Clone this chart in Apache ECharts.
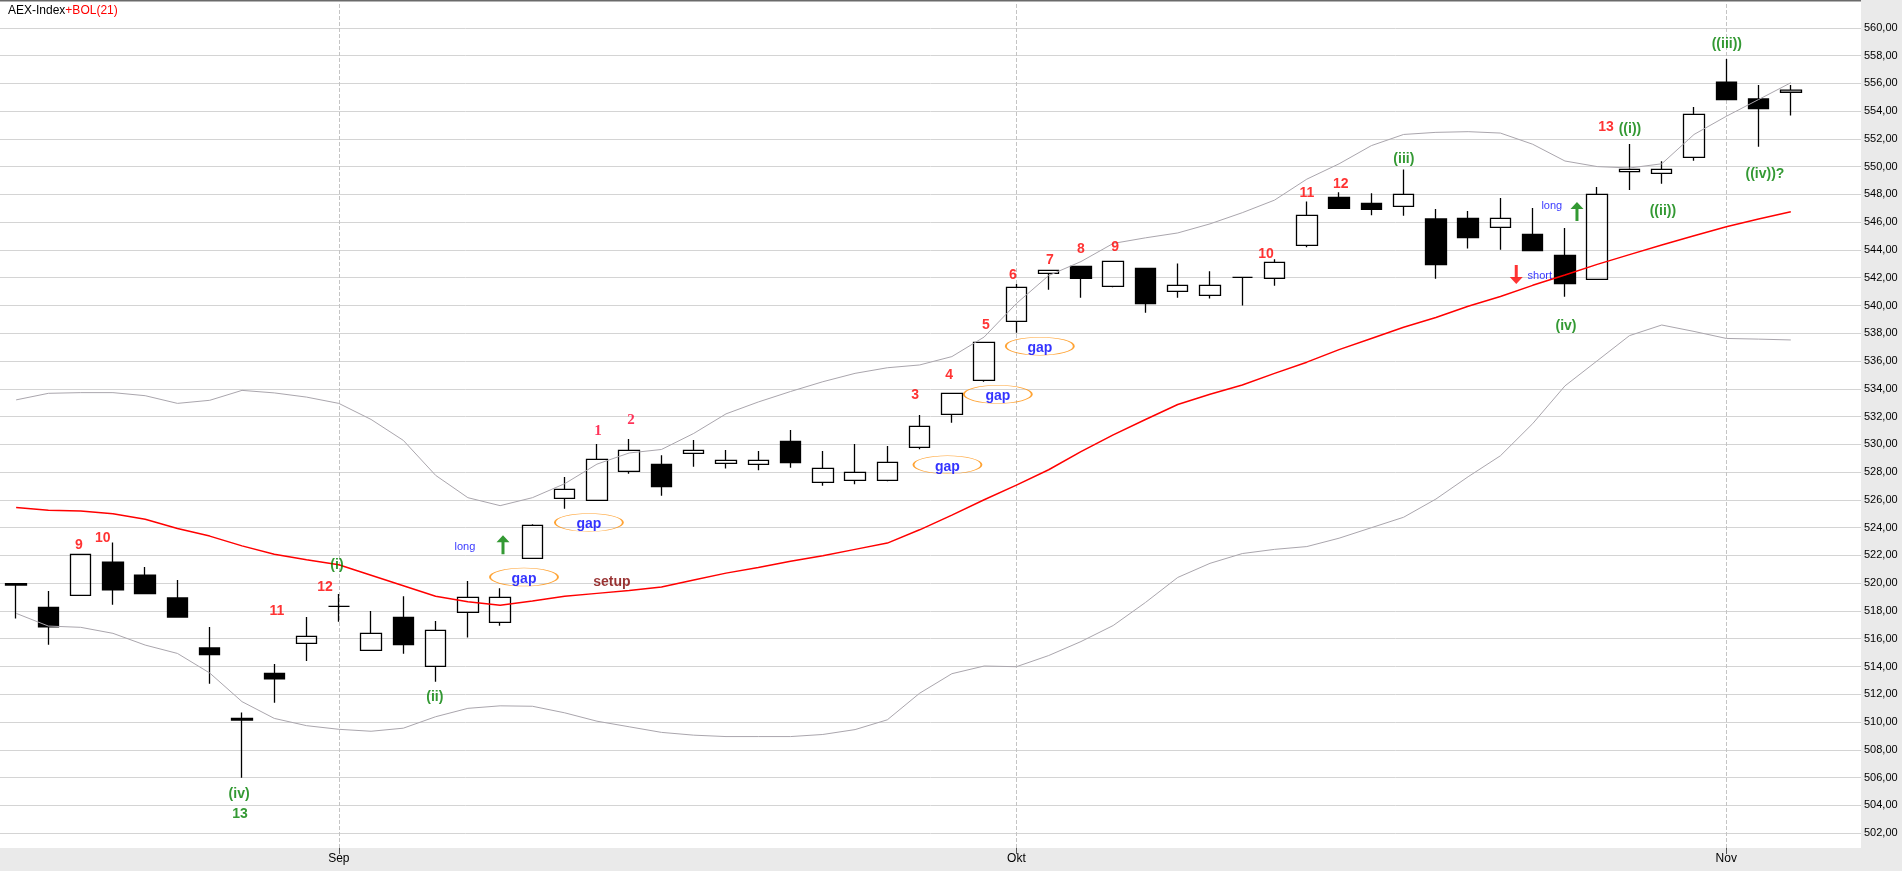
<!DOCTYPE html>
<html><head><meta charset="utf-8">
<script src="https://cdn.jsdelivr.net/npm/echarts@6/dist/echarts.min.js"></script>
<style>html,body{margin:0;padding:0;background:#fff;}#c{width:1902px;height:871px;}</style>
</head><body><div id="c"></div>
<script>
// ---------- data ----------
const dates = ['2017-08-18','2017-08-21','2017-08-22','2017-08-23','2017-08-24','2017-08-25','2017-08-28','2017-08-29','2017-08-30','2017-08-31',
'2017-09-01','2017-09-04','2017-09-05','2017-09-06','2017-09-07','2017-09-08','2017-09-11','2017-09-12','2017-09-13','2017-09-14','2017-09-15',
'2017-09-18','2017-09-19','2017-09-20','2017-09-21','2017-09-22','2017-09-25','2017-09-26','2017-09-27','2017-09-28','2017-09-29',
'2017-10-02','2017-10-03','2017-10-04','2017-10-05','2017-10-06','2017-10-09','2017-10-10','2017-10-11','2017-10-12','2017-10-13',
'2017-10-16','2017-10-17','2017-10-18','2017-10-19','2017-10-20','2017-10-23','2017-10-24','2017-10-25','2017-10-26','2017-10-27',
'2017-10-30','2017-10-31','2017-11-01','2017-11-02','2017-11-03'];
const monthLabels = ['Jan','Feb','Mrt','Apr','Mei','Jun','Jul','Aug','Sep','Okt','Nov','Dec'];

const opens  = [519.85,518.15,519.01,521.39,520.46,518.82,515.24,510.2,513.42,515.57,
518.22,515.07,517.43,513.93,517.79,517.07,521.66,525.95,525.81,527.89,
528.39,529.17,528.46,528.39,530.03,527.10,527.24,527.24,529.60,531.97,
534.40,538.62,542.06,542.56,541.13,542.42,540.77,540.48,541.77,541.70,
544.06,547.50,547.07,546.85,545.95,546.0,545.35,544.85,543.35,541.63,
549.34,549.22,550.36,555.75,554.54,555.02];
const closes = [519.75,516.76,521.94,519.41,519.13,517.46,514.76,510.08,513.04,516.07,
518.22,516.29,515.48,516.50,518.86,518.86,524.02,526.60,528.74,529.39,
526.79,529.39,528.67,528.67,528.51,528.10,527.81,528.53,531.11,533.47,
537.12,541.06,542.27,541.70,542.92,539.89,541.20,541.20,541.77,542.85,
546.21,546.71,546.64,547.71,542.68,544.61,546.0,543.68,541.32,547.71,
549.50,549.50,553.44,554.49,553.85,555.18];
const lows   = [517.35,515.48,519.0,518.34,519.1,517.40,512.68,505.96,511.32,514.31,
517.12,515.07,514.83,512.83,516.0,516.84,521.66,525.21,525.8,527.72,
526.14,528.22,528.08,527.96,528.15,526.86,526.96,527.17,529.46,531.37,
534.30,537.81,540.89,540.32,541.06,539.24,540.32,540.25,539.75,541.17,
543.92,546.7,546.21,546.19,541.68,543.83,543.75,543.65,540.39,541.6,
548.02,548.48,550.12,554.45,551.12,553.35];
const highs  = [519.9,519.32,521.95,522.80,521.04,520.10,516.74,510.63,514.09,517.46,
519.10,517.89,518.94,517.17,520.03,519.51,524.1,527.48,529.84,530.20,
529.03,530.13,529.41,529.34,530.85,529.34,529.84,529.70,531.92,533.5,
537.15,541.30,542.3,542.6,542.95,542.45,542.77,542.20,541.8,543.06,
547.21,547.86,547.79,549.50,546.66,546.52,547.45,546.74,545.30,548.24,
551.32,550.08,553.97,557.40,555.54,555.54];

const bolUpper  = [533.0,533.47,533.52,533.52,533.3,532.75,532.97,533.68,533.5,533.2,
532.75,531.6,530.1,527.6,526.0,525.43,526.0,527.0,528.4,529.2,
529.45,530.6,532.0,532.85,533.6,534.3,534.9,535.3,535.5,536.1,
537.5,539.9,541.9,542.9,544.2,544.6,544.95,545.6,546.4,547.3,
548.8,549.9,551.2,552.0,552.15,552.2,552.1,551.3,550.1,549.7,
549.6,549.9,552.0,553.3,554.5,555.7];
const bolMiddle = [525.3,525.1,525.05,524.85,524.45,523.8,523.25,522.55,521.95,521.55,
521.2,520.45,519.7,518.95,518.55,518.3,518.6,518.95,519.15,519.35,
519.6,520.1,520.6,521.0,521.45,521.85,522.3,522.75,523.7,524.75,
525.85,526.9,528.0,529.3,530.5,531.6,532.67,533.4,534.07,534.9,
535.7,536.6,537.4,538.2,538.9,539.7,540.4,541.2,541.94,542.7,
543.4,544.09,544.75,545.4,545.95,546.47];
const bolLower  = [517.72,516.81,516.72,516.29,515.45,514.85,513.45,511.4,510.2,509.68,
509.42,509.28,509.5,510.32,510.92,511.1,511.07,510.6,510.0,509.6,
509.2,509.0,508.9,508.9,508.9,509.05,509.4,510.1,512.0,513.4,
513.95,513.9,514.7,515.7,516.85,518.5,520.29,521.3,522.0,522.3,
522.5,523.1,523.85,524.6,525.9,527.5,529.0,531.3,534.0,535.8,
537.6,538.36,537.9,537.4,537.35,537.29];

// annotations: [candle position, price level, text]
const countLabels = [[2.0,522.76,'9'],[2.74,523.26,'10'],[8.13,517.96,'11'],[9.62,519.68,'12'],
[27.89,533.56,'3'],[28.94,535.0,'4'],[30.08,538.58,'5'],[30.92,542.15,'6'],[32.06,543.30,'7'],
[33.02,544.09,'8'],[34.08,544.23,'9'],[38.75,543.73,'10'],[40.02,548.10,'11'],[41.07,548.74,'12'],[49.28,552.82,'13']];
const serifCountLabels = [[18.07,530.92,'1'],[19.09,531.77,'2']];
const waveLabels = [[9.99,521.32,'(i)'],[13.02,511.8,'(ii)'],[6.96,504.79,'(iv)'],[6.99,503.36,'13'],
[43.02,550.53,'(iii)'],[48.04,538.50,'(iv)'],[50.02,552.68,'((i))'],[51.04,546.81,'((ii))'],
[53.02,558.83,'((iii))'],[54.2,549.46,'((iv))?']];
const signalLabels = [[13.95,522.61,'long'],[47.6,547.17,'long'],[47.23,542.15,'short']];
const gapMarks = [[15.78,520.44,'gap'],[17.79,524.37,'gap'],[28.89,528.53,'gap'],[30.45,533.6,'gap'],[31.75,537.07,'gap']];
const setupLabels = [[18.5,520.04,'setup']];
const upArrows = [[15.13,522.76],[48.38,546.77]];
const downArrows = [[46.5,542.23]];

// ---------- chart ----------
const monthStarts = [];
for (let i = 1; i < dates.length; i++) {
  if (dates[i].slice(5,7) !== dates[i-1].slice(5,7)) monthStarts.push(i);
}
const monthSet = new Set(monthStarts);
const F = 'Liberation Sans';

const chart = echarts.init(document.getElementById('c'), null, {renderer:'canvas'});

const PLOT_W = 1861, BAND = 32.3, FIRST = 14.3;
const catLeft = FIRST - BAND/2, catWidth = BAND * dates.length;
const xMin = -FIRST/BAND, xMax = (PLOT_W - FIRST)/BAND;
const PX = 13.97, Y560 = 22.7;
const yAtTop = 560 + (Y560 - 2)/PX, yAtBottom = 560 - (848 - Y560)/PX;

function textSeries(data, style, extra) {
  return Object.assign({
    type:'scatter', xAxisIndex:1, yAxisIndex:1, silent:true, z:6,
    symbol:'circle', symbolSize:1, itemStyle:{color:'rgba(0,0,0,0)'},
    data: data,
    label: Object.assign({show:true, position:'inside', formatter: p => p.data[2]}, style)
  }, extra || {});
}

const upPath = 'path://M6.5,0 L13,7 L8,7 L8,19 L5,19 L5,7 L0,7 Z';
const downPath = 'path://M5,0 L8,0 L8,12 L13,12 L6.5,19 L0,12 L5,12 Z';

chart.setOption({
  animation:false,
  backgroundColor:'#eaeaea',
  title:{
    left:3, top:0,
    text:'{a|AEX-Index}{b|+BOL(21)}',
    textStyle:{fontSize:12, fontFamily:F, fontWeight:'normal',
      rich:{a:{color:'#000', fontSize:12, fontFamily:F}, b:{color:'#ff0000', fontSize:12, fontFamily:F}}}
  },
  grid:[
    {left:catLeft, top:2, width:catWidth, height:846},
    {left:0, top:Y560 - 2*PX, width:PLOT_W, height:62*PX, show:true, backgroundColor:'#ffffff', borderWidth:0},
    {left:catLeft, top:847, width:catWidth, height:1}
  ],
  xAxis:[
    {type:'category', gridIndex:0, data:dates, axisLine:{show:false}, axisTick:{show:false}, axisLabel:{show:false}, splitLine:{show:false}},
    {type:'value', gridIndex:1, min:xMin, max:xMax, show:false},
    {type:'category', gridIndex:2, data:dates, z:60,
      axisLine:{show:false},
      axisTick:{show:true, alignWithLabel:true, length:6, interval:(i)=>monthSet.has(i), lineStyle:{color:'#555'}},
      axisLabel:{show:true, interval:(i)=>monthSet.has(i), margin:5, color:'#000', fontSize:12, fontFamily:F,
        formatter:(v)=>monthLabels[parseInt(v.slice(5,7),10)-1]},
      splitLine:{show:false}}
  ],
  yAxis:[
    {type:'value', gridIndex:0, min:yAtBottom, max:yAtTop, show:false},
    {type:'value', gridIndex:1, min:500, max:562, interval:2, position:'right',
      axisLine:{show:false}, axisTick:{show:false},
      axisLabel:{margin:3, color:'#000', fontSize:11, fontFamily:F,
        formatter:(v)=> (v < 501 || v > 561) ? '' : v.toFixed(2).replace('.', ',')},
      splitLine:{show:true, lineStyle:{color:'#d4d4d4', width:1}}},
    {type:'value', gridIndex:2, show:false}
  ],
  graphic:[
    {type:'rect', z:50, silent:true, shape:{x:0, y:848, width:1902, height:23}, style:{fill:'#eaeaea'}},
    {type:'rect', z:50, silent:true, shape:{x:0, y:0, width:PLOT_W, height:1.5}, style:{fill:'#6a6a6a'}}
  ],
  series:[
    {
      name:'AEX-Index', type:'candlestick', xAxisIndex:0, yAxisIndex:0, z:2, silent:true, barWidth:21,
      data: dates.map((d,i)=>[opens[i], closes[i], lows[i], highs[i]]),
      itemStyle:{color:'rgba(0,0,0,0)', color0:'#000000', borderColor:'#000000', borderColor0:'#000000', borderWidth:1.3},
      markLine:{silent:true, z:1, symbol:['none','none'], label:{show:false},
        lineStyle:{color:'#c4c4c4', type:'dashed', width:1},
        data: monthStarts.map(i=>({xAxis: dates[i]}))}
    },
    {name:'BOL upper', type:'line', xAxisIndex:0, yAxisIndex:0, z:3, silent:true, showSymbol:false, symbol:'none',
      data:bolUpper, lineStyle:{color:'#aaa6ad', width:1}},
    {name:'BOL lower', type:'line', xAxisIndex:0, yAxisIndex:0, z:3, silent:true, showSymbol:false, symbol:'none',
      data:bolLower, lineStyle:{color:'#aaa6ad', width:1}},
    {name:'BOL middle', type:'line', xAxisIndex:0, yAxisIndex:0, z:4, silent:true, showSymbol:false, symbol:'none',
      data:bolMiddle, lineStyle:{color:'#ff0000', width:1.5}},
    textSeries(countLabels, {color:'#ff0000', fontSize:14, fontWeight:'bold', fontFamily:F}),
    textSeries(serifCountLabels, {color:'#ff0030', fontSize:15, fontWeight:'bold', fontFamily:'Liberation Serif'}),
    textSeries(waveLabels, {color:'#008000', fontSize:14, fontWeight:'bold', fontFamily:F}),
    textSeries(signalLabels, {color:'#0000ff', fontSize:11, fontWeight:'normal', fontFamily:F}),
    textSeries(setupLabels, {color:'#800000', fontSize:14, fontWeight:'bold', fontFamily:F}),
    textSeries(gapMarks, {color:'#0000ff', fontSize:14, fontWeight:'bold', fontFamily:F, offset:[0,2]},
      {symbol:'circle', symbolSize:[68,18], itemStyle:{color:'rgba(0,0,0,0)', borderColor:'#ff8c00', borderWidth:1}}),
    {type:'scatter', xAxisIndex:1, yAxisIndex:1, silent:true, z:6, symbol:upPath, symbolSize:[13,19],
      itemStyle:{color:'#008000'}, data:upArrows},
    {type:'scatter', xAxisIndex:1, yAxisIndex:1, silent:true, z:6, symbol:downPath, symbolSize:[13,19],
      itemStyle:{color:'#ff0000'}, data:downArrows}
  ]
});
</script>
</body></html>
